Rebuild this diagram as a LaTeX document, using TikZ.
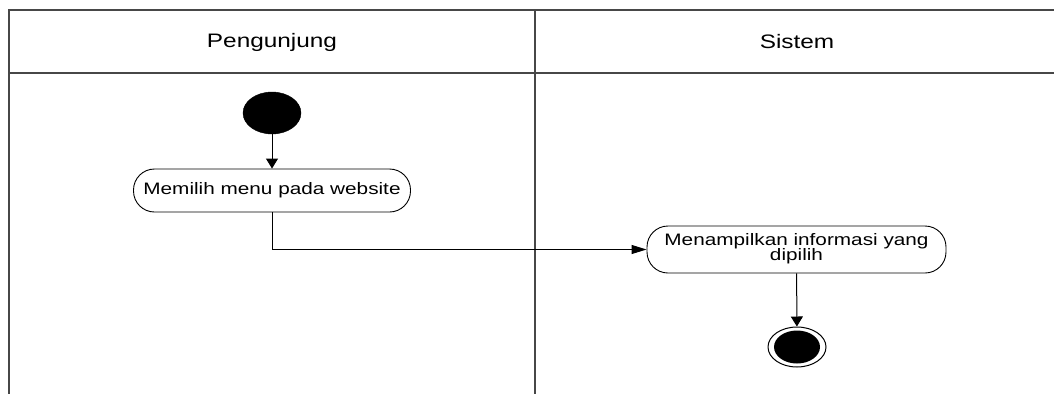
\documentclass[tikz,border=0pt]{standalone}
\usepackage{fontspec}
\setmainfont{Liberation Sans}
\usepackage{graphicx}
\usetikzlibrary{arrows.meta,shapes.geometric}
\newcommand\sx[1]{\scalebox{1.25}[1]{#1}}
\begin{document}
\begin{tikzpicture}[x=1pt,y=-1pt,
 lane/.style={draw=black!72, line width=1.6pt},
 act/.style={draw=black, line width=0.9pt, rounded corners=21pt, fill=white, inner sep=0pt, align=center, font=\fontsize{16.6}{17.5}\selectfont},
 hdr/.style={font=\fontsize{19.5}{22}\selectfont, inner sep=0pt},
 flowv/.style={draw=black, line width=1pt, -{Triangle[length=10pt,width=12pt]}},
 flowh/.style={draw=black, line width=1pt, -{Triangle[length=15pt,width=9pt]}},
]
\useasboundingbox (0,0) rectangle (1054,394);
% swimlanes
\draw[lane] (1054,10) -- (9,10) -- (9,394);
\draw[lane] (9,73) -- (1054,73);
\draw[lane] (535,10) -- (535,394);
\node[hdr] (h1) at (272,42) {\sx{Pengunjung}};
\node[hdr] (h2) at (797,42) {\sx{Sistem}};
% nodes
\node[ellipse, fill=black, draw=black, minimum width=58pt, minimum height=42pt, inner sep=0pt] (start) at (272,113) {};
\node[act, minimum width=277pt, minimum height=43pt] (a1) at (272,190.5) {\sx{Memilih menu pada website}};
\node[act, minimum width=299pt, minimum height=47pt] (a2) at (796.5,249.5) {\sx{\begin{tabular}{@{}c@{}}Menampilkan informasi yang\\[-2pt]dipilih\end{tabular}}};
\node[ellipse, draw=black, line width=1pt, fill=white, minimum width=58pt, minimum height=40pt, inner sep=0pt] (endo) at (797,347) {};
\node[ellipse, fill=black, minimum width=46pt, minimum height=33pt, inner sep=0pt] (endi) at (797,347) {};
% flows
\draw[flowv] (start) -- (a1);
\draw[flowh] (a1.south) |- (a2.west);
\draw[flowv] (a2) -- (endo);
\end{tikzpicture}
\end{document}
